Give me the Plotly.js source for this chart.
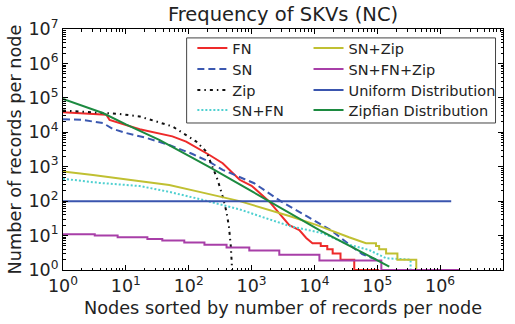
<!DOCTYPE html>
<html>
<head>
<meta charset="utf-8">
<script src="https://cdn.plot.ly/plotly-3.0.1.min.js"></script>
<style>
html,body{margin:0;padding:0;background:#fff;}
#chart{width:515px;height:324px;}
</style>
</head>
<body>
<div id="chart"></div>
<script>
// ---- data ----
const fnX = [1, 4.9, 5.5, 16.6, 55, 91, 214, 347, 646, 1000, 1905, 3981, 5750, 7400, 9300, 12600, 12600, 16000, 16000, 19500, 19500, 26000, 26000, 43000, 43000, 107000];
const fnY = [38000, 32400, 22900, 12300, 7600, 5370, 2190, 1260, 417, 280, 98, 20, 14.5, 8.5, 6, 6, 5, 5, 4, 4, 3, 3, 2, 2, 1, 1];

const snX = [1, 2, 4.3, 6.2, 10, 21, 49, 115, 214, 347, 1100, 2950, 7760, 18200, 42700, 57500, 100000];
const snY = [24000, 22900, 18600, 12600, 9550, 6900, 4270, 2340, 1380, 813, 331, 98, 35.5, 14.5, 4.3, 2.9, 1.95];

const zipX = [1, 3, 8, 16.6, 34, 55, 91, 132, 191, 229, 288, 347, 398, 437, 468, 490];
const zipY = [42700, 38000, 33900, 28800, 19500, 14800, 8300, 5370, 2750, 1260, 417, 135, 50, 17.8, 4.8, 1];

const snfnX = [1, 3.8, 16.6, 49, 148, 309, 646, 3980, 8300, 13500, 35500, 74100, 107000, 138000, 339000, 339000];
const snfnY = [447, 339, 275, 186, 115, 83, 57.5, 19, 14.5, 11.7, 5.4, 3.8, 2.75, 2.2, 2, 1];

const snzipX = [1, 3, 14.8, 49, 148, 646, 3980, 10700, 35500, 66100, 95500, 95500, 107000, 107000, 138000, 138000, 209000, 209000, 417000, 417000];
const snzipY = [725, 575, 389, 295, 186, 100, 37, 20.4, 8.9, 6, 6, 5, 5, 4, 4, 3, 3, 2, 2, 1];

const snfnzipX = [1, 3.2, 7.4, 22, 38, 85, 178, 400, 920, 2760, 12000, 116000, 2000000];
const snfnzipY = [11, 10, 9, 8, 7.2, 6.3, 5.4, 4.5, 3.7, 2.75, 1.9, 1, 1];

const uniX = [1, 1500000];
const uniY = [100, 100];

const zipfX = [1, 4.3, 10.2, 34, 115, 214, 1000, 12000, 155000];
const zipfY = [93300, 36300, 16600, 6030, 1820, 977, 195, 14.5, 1.26];

const seriesNames = ['FN', 'SN', 'Zip', 'SN+FN', 'SN+Zip', 'SN+FN+Zip', 'Uniform Distribution', 'Zipfian Distribution'];

const tickVals = [1, 10, 100, 1000, 10000, 100000, 1000000, 10000000];
const tickText = ['10<sup>0</sup>', '10<sup>1</sup>', '10<sup>2</sup>', '10<sup>3</sup>', '10<sup>4</sup>', '10<sup>5</sup>', '10<sup>6</sup>', '10<sup>7</sup>'];

// ---- traces ----
const legendIds = ['legend', 'legend2', 'legend3', 'legend4', 'legend5', 'legend6', 'legend7', 'legend8'];
function tr(i, x, y, color, dash, shape) {
  return {
    type: 'scatter', mode: 'lines', name: seriesNames[i], x: x, y: y,
    line: {color: color, width: 2, dash: dash, shape: shape || 'linear'},
    legend: legendIds[i], hoverinfo: 'skip'
  };
}
const data = [
  tr(0, fnX, fnY, '#ee2a2a', 'solid'),
  tr(1, snX, snY, '#3b58b0', '7px,4px'),
  tr(2, zipX, zipY, '#111111', '3px,4px,1.5px,4px'),
  tr(3, snfnX, snfnY, '#4fd0d0', '2px,2px'),
  tr(4, snzipX, snzipY, '#c0c032', 'solid'),
  tr(5, snfnzipX, snfnzipY, '#a83fa8', 'solid', 'hv'),
  tr(6, uniX, uniY, '#3a55ae', 'solid'),
  tr(7, zipfX, zipfY, '#1c8a40', 'solid')
];

const fam = 'DejaVu Sans, sans-serif';
const txt = '#222';
const axisCommon = {
  type: 'log', showgrid: false, zeroline: false,
  showline: true, linecolor: '#000', linewidth: 1, mirror: 'allticks',
  ticks: 'inside', ticklen: 5, tickwidth: 1, tickcolor: '#000',
  tickmode: 'array', tickvals: tickVals, ticktext: tickText,
  tickfont: {family: fam, size: 17.5, color: txt},
  minor: {ticks: 'inside', ticklen: 2.5, tickwidth: 1, tickcolor: '#000', dtick: 'D1', showgrid: false}
};

const layout = {
  width: 515, height: 324,
  margin: {l: 63, r: 12, t: 29, b: 54},
  paper_bgcolor: '#fff', plot_bgcolor: '#fff',
  font: {family: fam, color: txt},
  title: {text: 'Frequency of SKVs (NC)', font: {family: fam, size: 19.5, color: txt},
          xref: 'paper', x: 0.5, xanchor: 'center', yref: 'container', y: 0.955, yanchor: 'middle'},
  xaxis: Object.assign({}, axisCommon, {range: [0, 7],
          title: {text: 'Nodes sorted by number of records per node', font: {family: fam, size: 17.7, color: txt}, standoff: 6}}),
  yaxis: Object.assign({}, axisCommon, {range: [0, 7],
          title: {text: 'Number of records per node', font: {family: fam, size: 17.7, color: txt}, standoff: 2}}),
  showlegend: true,
  shapes: [{type: 'rect', xref: 'paper', yref: 'paper', x0: 0.281, x1: 0.983, y0: 0.61, y1: 0.963,
            line: {color: '#444', width: 1}, fillcolor: '#fff', layer: 'above'}]
};
// one legend per entry, laid out as two columns of four rows
const colX = [0.294, 0.558];
const rowY = [0.921, 0.834, 0.747, 0.664];
legendIds.forEach(function (id, i) {
  layout[id] = {
    x: colX[Math.floor(i / 4)], xanchor: 'left', y: rowY[i % 4], yanchor: 'middle',
    bgcolor: 'rgba(0,0,0,0)', borderwidth: 0,
    font: {family: fam, size: 14.5, color: txt}
  };
});

Plotly.newPlot('chart', data, layout, {displayModeBar: false, staticPlot: true});
</script>
</body>
</html>
